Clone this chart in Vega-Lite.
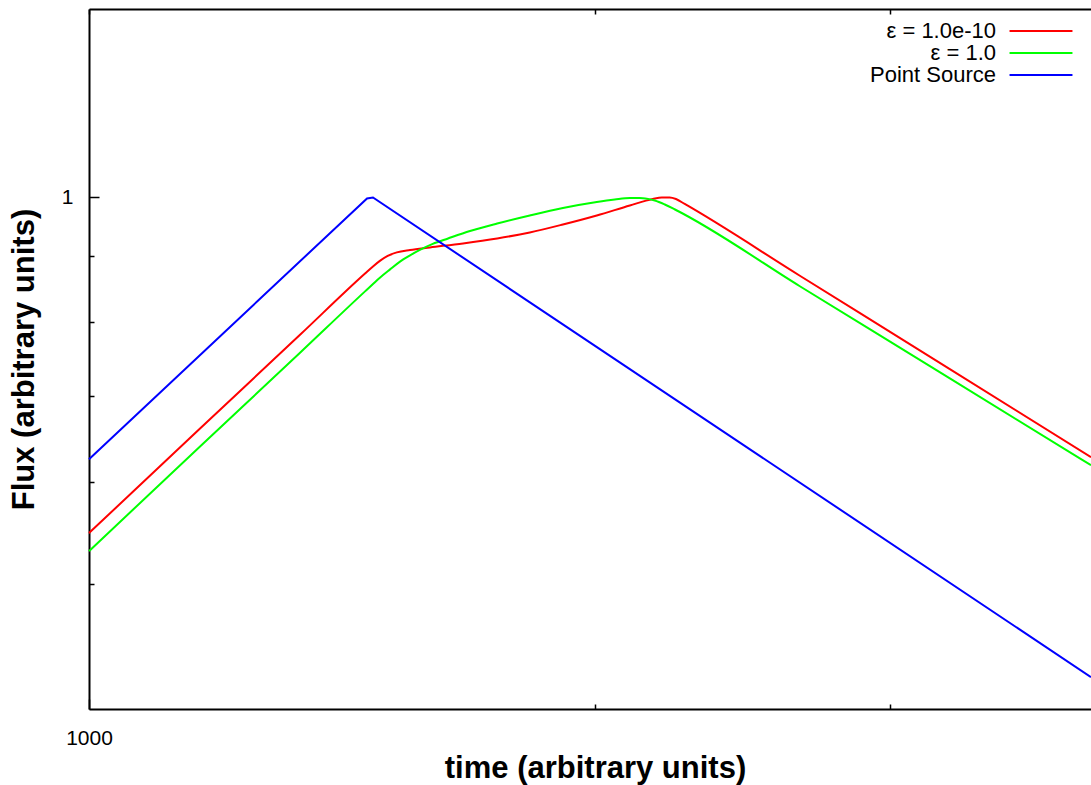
{
  "$schema": "https://vega.github.io/schema/vega-lite/v6.json",
  "width": 1002,
  "height": 700,
  "autosize": {"type": "none"},
  "padding": {"left": 89, "top": 9, "right": 0, "bottom": 76},
  "background": "white",
  "config": {"view": {"stroke": null}, "font": "Liberation Sans"},
  "data": {
    "values": [
      {"series": "ε = 1.0e-10", "t": 1000, "flux": 0.548},
      {"series": "ε = 1.0e-10", "t": 1164, "flux": 0.6605},
      {"series": "ε = 1.0e-10", "t": 1336, "flux": 0.7818},
      {"series": "ε = 1.0e-10", "t": 1460, "flux": 0.872},
      {"series": "ε = 1.0e-10", "t": 1476, "flux": 0.8831},
      {"series": "ε = 1.0e-10", "t": 1490, "flux": 0.8919},
      {"series": "ε = 1.0e-10", "t": 1506, "flux": 0.8999},
      {"series": "ε = 1.0e-10", "t": 1525, "flux": 0.9056},
      {"series": "ε = 1.0e-10", "t": 1553, "flux": 0.9096},
      {"series": "ε = 1.0e-10", "t": 1596, "flux": 0.9137},
      {"series": "ε = 1.0e-10", "t": 1670, "flux": 0.9203},
      {"series": "ε = 1.0e-10", "t": 1750, "flux": 0.9285},
      {"series": "ε = 1.0e-10", "t": 1830, "flux": 0.9385},
      {"series": "ε = 1.0e-10", "t": 1915, "flux": 0.952},
      {"series": "ε = 1.0e-10", "t": 2006, "flux": 0.9675},
      {"series": "ε = 1.0e-10", "t": 2099, "flux": 0.9849},
      {"series": "ε = 1.0e-10", "t": 2166, "flux": 0.9964},
      {"series": "ε = 1.0e-10", "t": 2193, "flux": 0.9991},
      {"series": "ε = 1.0e-10", "t": 2217, "flux": 0.9991},
      {"series": "ε = 1.0e-10", "t": 2236, "flux": 0.9964},
      {"series": "ε = 1.0e-10", "t": 2263, "flux": 0.9876},
      {"series": "ε = 1.0e-10", "t": 2650, "flux": 0.8686},
      {"series": "ε = 1.0e-10", "t": 3255, "flux": 0.7349},
      {"series": "ε = 1.0e-10", "t": 3950, "flux": 0.6277},
      {"series": "ε = 1.0", "t": 1000, "flux": 0.5306},
      {"series": "ε = 1.0", "t": 1164, "flux": 0.6396},
      {"series": "ε = 1.0", "t": 1336, "flux": 0.7571},
      {"series": "ε = 1.0", "t": 1460, "flux": 0.8446},
      {"series": "ε = 1.0", "t": 1476, "flux": 0.8558},
      {"series": "ε = 1.0", "t": 1490, "flux": 0.8655},
      {"series": "ε = 1.0", "t": 1511, "flux": 0.8785},
      {"series": "ε = 1.0", "t": 1531, "flux": 0.8904},
      {"series": "ε = 1.0", "t": 1553, "flux": 0.9008},
      {"series": "ε = 1.0", "t": 1574, "flux": 0.9096},
      {"series": "ε = 1.0", "t": 1602, "flux": 0.9195},
      {"series": "ε = 1.0", "t": 1636, "flux": 0.9285},
      {"series": "ε = 1.0", "t": 1686, "flux": 0.941},
      {"series": "ε = 1.0", "t": 1750, "flux": 0.9537},
      {"series": "ε = 1.0", "t": 1830, "flux": 0.9675},
      {"series": "ε = 1.0", "t": 1915, "flux": 0.9805},
      {"series": "ε = 1.0", "t": 2006, "flux": 0.9911},
      {"series": "ε = 1.0", "t": 2056, "flux": 0.9955},
      {"series": "ε = 1.0", "t": 2099, "flux": 0.9982},
      {"series": "ε = 1.0", "t": 2137, "flux": 0.998},
      {"series": "ε = 1.0", "t": 2172, "flux": 0.9938},
      {"series": "ε = 1.0", "t": 2202, "flux": 0.9867},
      {"series": "ε = 1.0", "t": 2233, "flux": 0.9779},
      {"series": "ε = 1.0", "t": 2650, "flux": 0.8524},
      {"series": "ε = 1.0", "t": 3255, "flux": 0.7227},
      {"series": "ε = 1.0", "t": 3950, "flux": 0.6188},
      {"series": "Point Source", "t": 1000, "flux": 0.6255},
      {"series": "Point Source", "t": 1464, "flux": 0.9975},
      {"series": "Point Source", "t": 1476, "flux": 0.9991},
      {"series": "Point Source", "t": 3950, "flux": 0.4235}
    ]
  },
  "layer": [
    {
      "transform": [{"filter": "datum.series != 'Point Source'"}],
      "mark": {"type": "line", "strokeWidth": 2, "interpolate": "monotone"},
      "encoding": {
        "x": {
          "field": "t", "type": "quantitative",
          "scale": {"type": "log", "domain": [1000, 3950], "nice": false},
          "axis": {
            "orient": "bottom",
            "values": [1000, 2000, 3000],
            "labelExpr": "datum.value == 1000 ? '1000' : ''",
            "tickSize": {"condition": {"test": "datum.value == 1000", "value": -10}, "value": -5},
            "tickColor": "black", "tickWidth": 1.5,
            "domainColor": "black", "domainWidth": 2,
            "labelFlush": false, "labelOverlap": false,
            "labelFontSize": 21, "labelColor": "black", "labelPadding": 28,
            "grid": false,
            "title": "time (arbitrary units)",
            "titleFontSize": 31, "titleFontWeight": "bold", "titleColor": "black",
            "titleX": 506, "titleY": 68, "titleAlign": "center", "titleBaseline": "alphabetic"
          }
        },
        "y": {
          "field": "flux", "type": "quantitative",
          "scale": {"type": "log", "domain": [0.4, 1.4], "nice": false},
          "axis": {
            "orient": "left",
            "values": [0.5, 0.6, 0.7, 0.8, 0.9, 1],
            "labelExpr": "datum.value == 1 ? '1' : ''",
            "tickSize": {"condition": {"test": "datum.value == 1", "value": -10}, "value": -5},
            "tickColor": "black", "tickWidth": 1.5,
            "domainColor": "black", "domainWidth": 2,
            "labelOverlap": false,
            "labelFontSize": 21, "labelColor": "black", "labelPadding": 26,
            "grid": false,
            "title": "Flux (arbitrary units)",
            "titleFontSize": 31, "titleFontWeight": "bold", "titleColor": "black",
            "titleX": -49, "titleY": 350, "titleAlign": "center", "titleBaseline": "bottom", "titleAngle": -90
          }
        },
        "color": {
          "field": "series", "type": "nominal",
          "scale": {"domain": ["ε = 1.0e-10", "ε = 1.0", "Point Source"], "range": ["#ff0000", "#00ff00", "#0000ff"]},
          "legend": {
            "orient": "none", "legendX": 941, "legendY": 11,
            "title": null, "padding": 0,
            "symbolType": "M-6,0H6", "symbolSize": 110, "symbolStrokeWidth": 2,
            "labelAlign": "right", "labelOffset": -56,
            "labelFontSize": 22, "labelColor": "black", "labelLimit": 400,
            "rowPadding": 0
          }
        }
      }
    },
    {
      "transform": [{"filter": "datum.series == 'Point Source'"}],
      "mark": {"type": "line", "strokeWidth": 2, "interpolate": "linear"},
      "encoding": {
        "x": {
          "field": "t", "type": "quantitative",
          "scale": {"type": "log", "domain": [1000, 3950], "nice": false},
          "axis": {
            "orient": "top",
            "values": [1000, 2000, 3000],
            "labels": false,
            "tickSize": -5, "tickColor": "black", "tickWidth": 1.5,
            "domainColor": "black", "domainWidth": 2,
            "grid": false, "title": null
          }
        },
        "y": {
          "field": "flux", "type": "quantitative",
          "scale": {"type": "log", "domain": [0.4, 1.4], "nice": false},
          "axis": {
            "orient": "left",
            "values": [0.5, 0.6, 0.7, 0.8, 0.9, 1],
            "labelExpr": "datum.value == 1 ? '1' : ''",
            "tickSize": {"condition": {"test": "datum.value == 1", "value": -10}, "value": -5},
            "tickColor": "black", "tickWidth": 1.5,
            "domainColor": "black", "domainWidth": 2,
            "labelOverlap": false,
            "labelFontSize": 21, "labelColor": "black", "labelPadding": 26,
            "grid": false,
            "title": "Flux (arbitrary units)",
            "titleFontSize": 31, "titleFontWeight": "bold", "titleColor": "black",
            "titleX": -49, "titleY": 350, "titleAlign": "center", "titleBaseline": "bottom", "titleAngle": -90
          }
        },
        "color": {
          "field": "series", "type": "nominal",
          "scale": {"domain": ["ε = 1.0e-10", "ε = 1.0", "Point Source"], "range": ["#ff0000", "#00ff00", "#0000ff"]}
        }
      }
    }
  ]
}
